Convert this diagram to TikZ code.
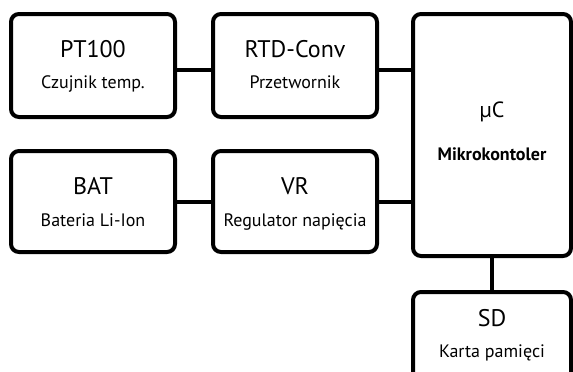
\documentclass[tikz,border=0pt]{standalone}
\usepackage{fontspec}
\setmainfont{PT Sans}
\begin{document}
\begin{tikzpicture}[x=1pt,y=-1pt,
  blk/.style={draw=black, line width=4pt, rounded corners=8pt, fill=white, inner sep=0pt},
  wire/.style={draw=black, line width=4pt},
  ttl/.style={anchor=base, inner sep=0pt, font=\fontsize{24}{28}\selectfont},
  sub/.style={anchor=base, inner sep=0pt, font=\fontsize{18}{21}\selectfont},
  subb/.style={anchor=base, inner sep=0pt, font=\fontsize{18}{21}\selectfont\bfseries}]
\useasboundingbox (0,0) rectangle (573,372);
\clip (0,0) rectangle (573,372);
% boxes
\node[blk, minimum width=164pt, minimum height=103pt] (pt) at (93,65.5) {};
\node[blk, minimum width=164pt, minimum height=103pt] (rtd) at (295,65.5) {};
\node[blk, minimum width=164pt, minimum height=101pt] (bat) at (93,201.5) {};
\node[blk, minimum width=164pt, minimum height=101pt] (vr) at (295,201.5) {};
\node[blk, minimum width=158pt, minimum height=242pt] (mc) at (492,135) {};
\node[blk, minimum width=158pt, minimum height=104pt] (sd) at (492,344) {};
% connectors
\draw[wire] ([yshift=-4.5pt]pt.east) -- ([yshift=-4.5pt]rtd.west);
\draw[wire] ([yshift=-4.5pt]rtd.east) -- ([yshift=-4.5pt]rtd.east -| mc.west);
\draw[wire] (bat.east) -- (vr.west);
\draw[wire] (vr.east) -- (vr.east -| mc.west);
\draw[wire] (mc.south) -- (sd.north);
% texts
\node[ttl] (t1) at (93,57) {PT100};
\node[sub] (s1) at (93,88) {Czujnik temp.};
\node[ttl] (t2) at (295,57) {RTD-Conv};
\node[sub] (s2) at (295,88) {Przetwornik};
\node[ttl] (t3) at (93,194) {BAT};
\node[sub] (s3) at (93,226) {Bateria Li-Ion};
\node[ttl] (t4) at (295,194) {VR};
\node[sub] (s4) at (295,226) {Regulator napięcia};
\node[ttl, font=\fontsize{22}{26}\selectfont] (t5) at (492,117) {µC};
\node[subb] (s5) at (492,160) {Mikrokontoler};
\node[ttl] (t6) at (492,326) {SD};
\node[sub] (s6) at (492,357) {Karta pamięci};
\end{tikzpicture}
\end{document}
